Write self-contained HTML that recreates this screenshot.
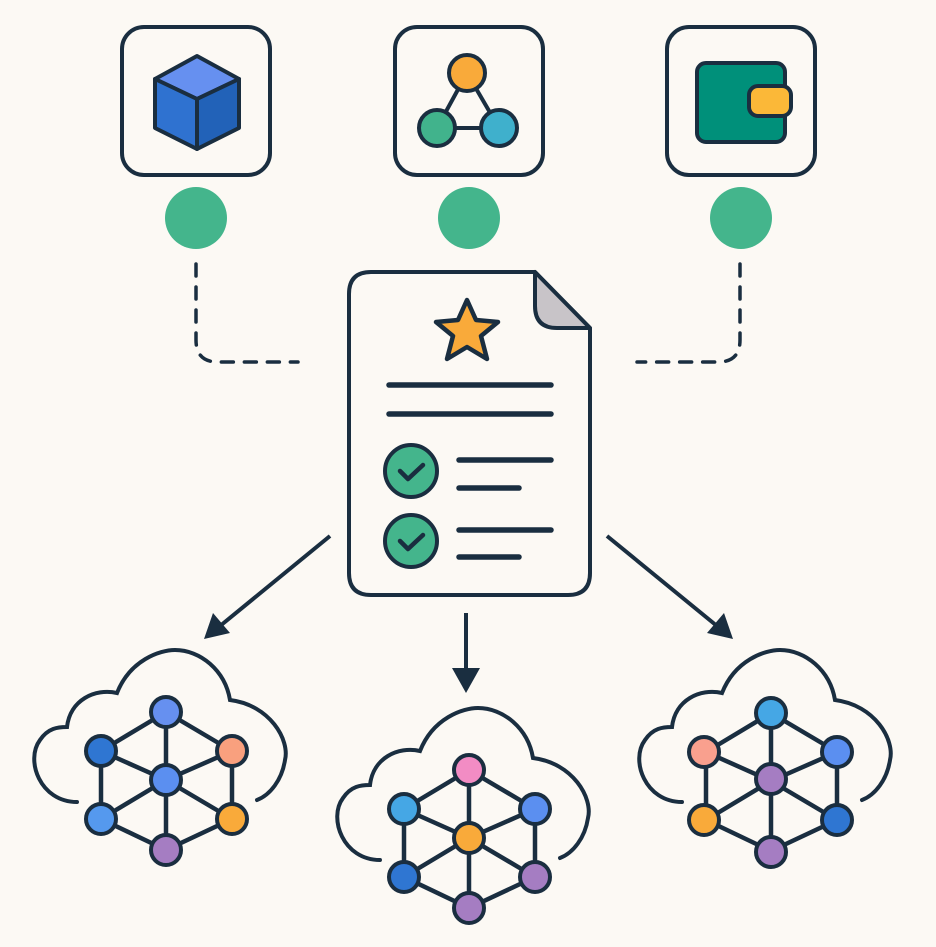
<!DOCTYPE html>
<html><head><meta charset="utf-8"><style>
html,body{margin:0;padding:0;background:#fcf9f4;}
svg{display:block}
</style></head><body>
<svg width="936" height="947" viewBox="0 0 936 947" xmlns="http://www.w3.org/2000/svg">
<rect width="936" height="947" fill="#fcf9f4"/>
<defs>
<g id="cloud"><path d="M77,802 C40,802 25,760 40,740 C48,728 58,727 67,727 C70,700 95,688 117,693 C130,660 160,650 175,650 C200,650 225,670 230,700 C270,705 290,740 285,760 C282,780 270,795 257,800" fill="none" stroke="#1a2e40" stroke-width="4" stroke-linecap="round"/></g>
<g id="edges" stroke="#1a2e40" stroke-width="4.5" fill="none">
<line x1="0" y1="0" x2="-65" y2="39"/><line x1="0" y1="0" x2="66" y2="39"/><line x1="0" y1="0" x2="0" y2="138"/>
<line x1="-65" y1="39" x2="0" y2="68"/><line x1="66" y1="39" x2="0" y2="68"/>
<line x1="-65" y1="39" x2="-65" y2="107"/><line x1="66" y1="39" x2="66" y2="107"/>
<line x1="0" y1="68" x2="-65" y2="107"/><line x1="0" y1="68" x2="66" y2="107"/>
<line x1="-65" y1="107" x2="0" y2="138"/><line x1="66" y1="107" x2="0" y2="138"/>
</g>
</defs>

<g fill="#fcf9f4" stroke="#1a2e40" stroke-width="4">
<rect x="122" y="27" width="148" height="148" rx="22"/>
<rect x="395" y="27" width="148" height="148" rx="22"/>
<rect x="667" y="27" width="148" height="148" rx="22"/>
</g>
<g stroke="#1a2e40" stroke-width="4" stroke-linejoin="round">
<polygon points="197,56 239,79 197,99 155,79" fill="#6690f0"/>
<polygon points="155,79 197,99 197,149 155,128" fill="#2f72d0"/>
<polygon points="239,79 197,99 197,149 239,128" fill="#2262b8"/>
</g>
<g stroke="#1a2e40" stroke-width="4">
<line x1="467" y1="73" x2="437" y2="128"/><line x1="467" y1="73" x2="499" y2="128"/><line x1="437" y1="128" x2="499" y2="128"/>
<circle cx="467" cy="73" r="18" fill="#f9aa3a"/>
<circle cx="437" cy="128" r="18" fill="#41b38c"/>
<circle cx="499" cy="128" r="18" fill="#3fb0cc"/>
</g>
<g stroke="#1a2e40" stroke-width="4">
<rect x="697" y="63" width="88" height="79" rx="9" fill="#00907a"/>
<rect x="749" y="86" width="42" height="30" rx="9" fill="#fbb838"/>
</g>
<g fill="#44b58c">
<circle cx="196" cy="218" r="31"/><circle cx="469" cy="218" r="31"/><circle cx="741" cy="218" r="31"/>
</g>
<g fill="none" stroke="#1a2e40" stroke-width="3.5" stroke-dasharray="12,11" stroke-linecap="round">
<path d="M196,264 L196,340 Q196,362 218,362 L298,362"/>
<path d="M740,264 L740,340 Q740,362 718,362 L637,362"/>
</g>
<path d="M371,272 L535,272 L590,328 L590,573 Q590,595 568,595 L371,595 Q349,595 349,573 L349,294 Q349,272 371,272 Z" fill="#fcf9f4" stroke="#1a2e40" stroke-width="4" stroke-linejoin="round"/>
<path d="M535,272 L535,306 Q535,328 557,328 L590,328 Z" fill="#c8c4c8" stroke="#1a2e40" stroke-width="4" stroke-linejoin="round"/>
<polygon points="467,300 476,320 498,322 481,336 487,359 467,347 447,359 453,336 436,322 458,320" fill="#f9aa3a" stroke="#1a2e40" stroke-width="4.5" stroke-linejoin="round"/>
<g stroke="#1a2e40" stroke-width="5.5" stroke-linecap="round">
<line x1="389" y1="385" x2="551" y2="385"/><line x1="389" y1="414" x2="551" y2="414"/>
<line x1="459" y1="460" x2="551" y2="460"/><line x1="459" y1="488" x2="519" y2="488"/>
<line x1="459" y1="530" x2="551" y2="530"/><line x1="459" y1="557" x2="519" y2="557"/>
</g>
<g stroke="#1a2e40" stroke-width="4">
<circle cx="411" cy="471" r="26" fill="#44b58c"/><circle cx="411" cy="541" r="26" fill="#44b58c"/>
</g>
<g fill="none" stroke="#1a2e40" stroke-width="4.5" stroke-linecap="round" stroke-linejoin="round">
<polyline points="400,471 408,479 423,465"/><polyline points="400,541 408,549 423,535"/>
</g>
<g stroke="#1a2e40" stroke-width="4">
<line x1="330" y1="536" x2="220" y2="626"/>
<line x1="466" y1="613" x2="466" y2="672"/>
<line x1="607" y1="536" x2="717" y2="626"/>
</g>
<g fill="#1a2e40">
<polygon points="204,639 213,613 230,633"/>
<polygon points="466,693 452,668 480,668"/>
<polygon points="733,639 707,633 724,613"/>
</g>

<use href="#cloud"/>
<use href="#cloud" transform="translate(303,58)"/>
<use href="#cloud" transform="translate(605,0)"/>

<g transform="translate(166,712)" stroke="#1a2e40" stroke-width="4">
<use href="#edges"/>
<circle cx="0" cy="0" r="15" fill="#6690f0"/><circle cx="-65" cy="39" r="15" fill="#2f76d2"/><circle cx="66" cy="39" r="15" fill="#f9a07e"/>
<circle cx="0" cy="68" r="15" fill="#5b8ff0"/><circle cx="-65" cy="107" r="15" fill="#5599ee"/><circle cx="66" cy="107" r="15" fill="#f9aa3a"/><circle cx="0" cy="138" r="15" fill="#a57dc2"/>
</g>
<g transform="translate(469,770)" stroke="#1a2e40" stroke-width="4">
<use href="#edges"/>
<circle cx="0" cy="0" r="15" fill="#f28cc4"/><circle cx="-65" cy="39" r="15" fill="#45a7e5"/><circle cx="66" cy="39" r="15" fill="#5b8ff0"/>
<circle cx="0" cy="68" r="15" fill="#f9aa3a"/><circle cx="-65" cy="107" r="15" fill="#2f76d2"/><circle cx="66" cy="107" r="15" fill="#a57dc2"/><circle cx="0" cy="138" r="15" fill="#a57dc2"/>
</g>
<g transform="translate(771,713)" stroke="#1a2e40" stroke-width="4">
<use href="#edges"/>
<circle cx="0" cy="0" r="15" fill="#45a7e5"/><circle cx="-67" cy="39" r="15" fill="#f9a08e"/><circle cx="66" cy="39" r="15" fill="#5b8ff0"/>
<circle cx="0" cy="66" r="15" fill="#a57dc2"/><circle cx="-67" cy="107" r="15" fill="#f9aa3a"/><circle cx="66" cy="107" r="15" fill="#2f76d2"/><circle cx="0" cy="139" r="15" fill="#a57dc2"/>
</g>
</svg>
</body></html>
